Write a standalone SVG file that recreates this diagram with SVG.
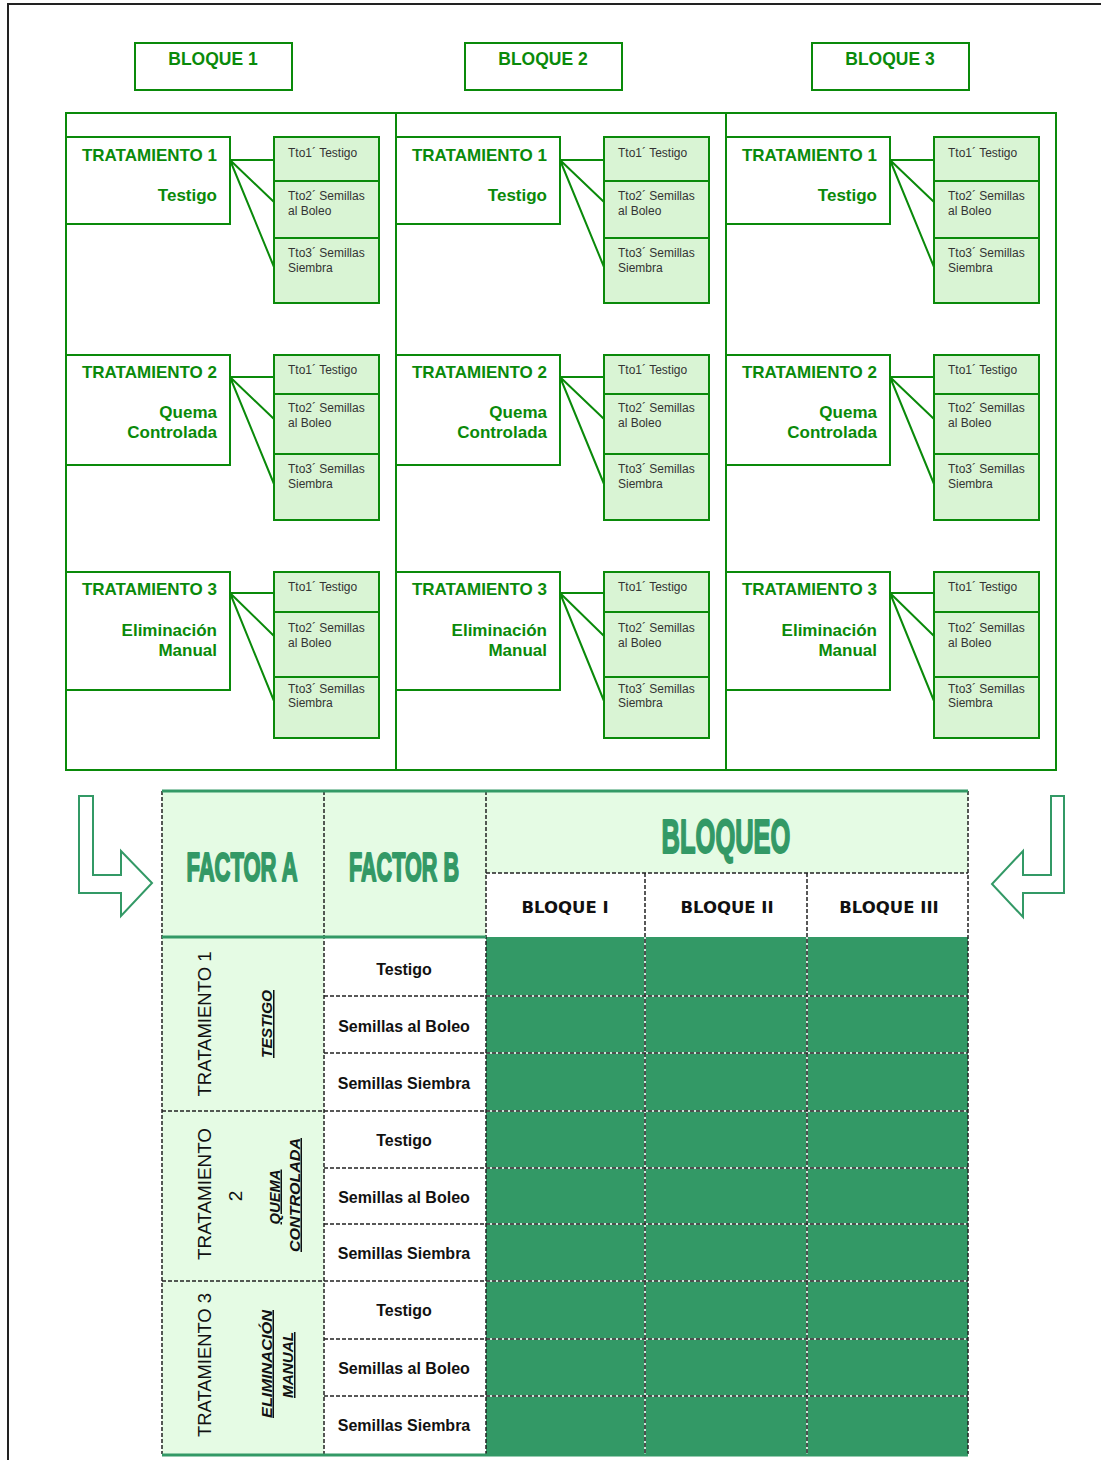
<svg xmlns="http://www.w3.org/2000/svg" width="1101" height="1460" viewBox="0 0 1101 1460">
  <style>
    .frame { fill: none; stroke: #222; stroke-width: 2; }
    .gbox { fill: #ffffff; stroke: #0a8a0a; stroke-width: 2; }
    .sub { fill: #d9f4d4; stroke: #0a8a0a; stroke-width: 2; }
    .conn { stroke: #0a8a0a; stroke-width: 2; fill: none; }
    .hdr { font-family: "Liberation Sans", Arial, sans-serif; font-weight: bold; font-size: 17.5px; fill: #0a8a0a; text-anchor: middle; }
    .tt { font-family: "Liberation Sans", Arial, sans-serif; font-weight: bold; font-size: 17px; fill: #0a8a0a; text-anchor: end; }
    .st { font-family: "Liberation Sans", Arial, sans-serif; font-size: 12px; fill: #333; }
    .arrow { fill: #ffffff; stroke: #339966; stroke-width: 2; }
    .big { font-family: "Liberation Sans", Arial, sans-serif; font-weight: bold; fill: #339966; stroke: #339966; stroke-width: 2; stroke-linejoin: round; text-anchor: middle; }
    .bq { font-family: "DejaVu Sans", Verdana, sans-serif; font-weight: bold; font-size: 16.5px; fill: #111; text-anchor: middle; }
    .fb { font-family: "Liberation Sans", Arial, sans-serif; font-weight: bold; font-size: 16px; fill: #111; text-anchor: middle; }
    .rt { font-family: "Liberation Sans", Arial, sans-serif; font-size: 19px; fill: #111; text-anchor: middle; }
    .ri { font-family: "Liberation Sans", Arial, sans-serif; font-size: 15px; font-weight: bold; font-style: italic; text-decoration: underline; fill: #111; text-anchor: middle; }
    .dash { stroke: #222; stroke-width: 1.5; stroke-dasharray: 4 2; fill: none; }
    .wline { stroke: #ffffff; stroke-width: 1.5; fill: none; }
    .gline { stroke: #339966; stroke-width: 3; fill: none; }
  </style>

  <!-- page border -->
  <path class="frame" d="M8 1460 V4 H1101"/>

  <!-- block headers -->
  <g id="bloque1"><rect class="gbox" x="135" y="43" width="157" height="47"/><text class="hdr" x="213" y="65">BLOQUE 1</text></g>
  <g id="bloque2"><rect class="gbox" x="465" y="43" width="157" height="47"/><text class="hdr" x="543" y="65">BLOQUE 2</text></g>
  <g id="bloque3"><rect class="gbox" x="812" y="43" width="157" height="47"/><text class="hdr" x="890" y="65">BLOQUE 3</text></g>

  <!-- field layout frame -->
  <g id="campo">
    <rect class="gbox" x="66" y="113" width="990" height="657"/>
    <line class="conn" x1="396" y1="113" x2="396" y2="770"/>
    <line class="conn" x1="726" y1="113" x2="726" y2="770"/>
  </g>

  <!-- connectors between treatment boxes and sub-treatments -->
  <g id="connectors">
    <path class="conn" d="M230 160 H274 M230 160 L274 202 M230 160 L274 267"/>
    <path class="conn" d="M230 377 H274 M230 377 L274 419 M230 377 L274 484"/>
    <path class="conn" d="M230 593 H274 M230 593 L274 636 M230 593 L274 701"/>
    <path class="conn" d="M560 160 H604 M560 160 L604 202 M560 160 L604 267"/>
    <path class="conn" d="M560 377 H604 M560 377 L604 419 M560 377 L604 484"/>
    <path class="conn" d="M560 593 H604 M560 593 L604 636 M560 593 L604 701"/>
    <path class="conn" d="M890 160 H934 M890 160 L934 202 M890 160 L934 267"/>
    <path class="conn" d="M890 377 H934 M890 377 L934 419 M890 377 L934 484"/>
    <path class="conn" d="M890 593 H934 M890 593 L934 636 M890 593 L934 701"/>
  </g>

  <!-- Bloque 1 treatments -->
  <g id="b1t1">
    <rect class="gbox" x="66" y="137" width="164" height="87"/>
    <text class="tt" x="217" y="161">TRATAMIENTO 1</text>
    <text class="tt" x="217" y="201">Testigo</text>
  </g>
  <g id="b1t1s">
    <rect class="sub" x="274" y="137" width="105" height="44"/>
    <rect class="sub" x="274" y="181" width="105" height="57"/>
    <rect class="sub" x="274" y="238" width="105" height="65"/>
    <text class="st" x="288" y="157">Tto1´ Testigo</text>
    <text class="st" x="288" y="200">Tto2´ Semillas</text><text class="st" x="288" y="215">al Boleo</text>
    <text class="st" x="288" y="257">Tto3´ Semillas</text><text class="st" x="288" y="272">Siembra</text>
  </g>
  <g id="b1t2">
    <rect class="gbox" x="66" y="355" width="164" height="110"/>
    <text class="tt" x="217" y="378">TRATAMIENTO 2</text>
    <text class="tt" x="217" y="418">Quema</text>
    <text class="tt" x="217" y="438">Controlada</text>
  </g>
  <g id="b1t2s">
    <rect class="sub" x="274" y="355" width="105" height="39"/>
    <rect class="sub" x="274" y="394" width="105" height="60"/>
    <rect class="sub" x="274" y="454" width="105" height="66"/>
    <text class="st" x="288" y="374">Tto1´ Testigo</text>
    <text class="st" x="288" y="412">Tto2´ Semillas</text><text class="st" x="288" y="427">al Boleo</text>
    <text class="st" x="288" y="473">Tto3´ Semillas</text><text class="st" x="288" y="488">Siembra</text>
  </g>
  <g id="b1t3">
    <rect class="gbox" x="66" y="572" width="164" height="118"/>
    <text class="tt" x="217" y="595">TRATAMIENTO 3</text>
    <text class="tt" x="217" y="636">Eliminación</text>
    <text class="tt" x="217" y="656">Manual</text>
  </g>
  <g id="b1t3s">
    <rect class="sub" x="274" y="572" width="105" height="40"/>
    <rect class="sub" x="274" y="612" width="105" height="65"/>
    <rect class="sub" x="274" y="677" width="105" height="61"/>
    <text class="st" x="288" y="591">Tto1´ Testigo</text>
    <text class="st" x="288" y="632">Tto2´ Semillas</text><text class="st" x="288" y="647">al Boleo</text>
    <text class="st" x="288" y="693">Tto3´ Semillas</text><text class="st" x="288" y="707">Siembra</text>
  </g>

  <!-- Bloque 2 treatments -->
  <g id="b2t1">
    <rect class="gbox" x="396" y="137" width="164" height="87"/>
    <text class="tt" x="547" y="161">TRATAMIENTO 1</text>
    <text class="tt" x="547" y="201">Testigo</text>
  </g>
  <g id="b2t1s">
    <rect class="sub" x="604" y="137" width="105" height="44"/>
    <rect class="sub" x="604" y="181" width="105" height="57"/>
    <rect class="sub" x="604" y="238" width="105" height="65"/>
    <text class="st" x="618" y="157">Tto1´ Testigo</text>
    <text class="st" x="618" y="200">Tto2´ Semillas</text><text class="st" x="618" y="215">al Boleo</text>
    <text class="st" x="618" y="257">Tto3´ Semillas</text><text class="st" x="618" y="272">Siembra</text>
  </g>
  <g id="b2t2">
    <rect class="gbox" x="396" y="355" width="164" height="110"/>
    <text class="tt" x="547" y="378">TRATAMIENTO 2</text>
    <text class="tt" x="547" y="418">Quema</text>
    <text class="tt" x="547" y="438">Controlada</text>
  </g>
  <g id="b2t2s">
    <rect class="sub" x="604" y="355" width="105" height="39"/>
    <rect class="sub" x="604" y="394" width="105" height="60"/>
    <rect class="sub" x="604" y="454" width="105" height="66"/>
    <text class="st" x="618" y="374">Tto1´ Testigo</text>
    <text class="st" x="618" y="412">Tto2´ Semillas</text><text class="st" x="618" y="427">al Boleo</text>
    <text class="st" x="618" y="473">Tto3´ Semillas</text><text class="st" x="618" y="488">Siembra</text>
  </g>
  <g id="b2t3">
    <rect class="gbox" x="396" y="572" width="164" height="118"/>
    <text class="tt" x="547" y="595">TRATAMIENTO 3</text>
    <text class="tt" x="547" y="636">Eliminación</text>
    <text class="tt" x="547" y="656">Manual</text>
  </g>
  <g id="b2t3s">
    <rect class="sub" x="604" y="572" width="105" height="40"/>
    <rect class="sub" x="604" y="612" width="105" height="65"/>
    <rect class="sub" x="604" y="677" width="105" height="61"/>
    <text class="st" x="618" y="591">Tto1´ Testigo</text>
    <text class="st" x="618" y="632">Tto2´ Semillas</text><text class="st" x="618" y="647">al Boleo</text>
    <text class="st" x="618" y="693">Tto3´ Semillas</text><text class="st" x="618" y="707">Siembra</text>
  </g>

  <!-- Bloque 3 treatments -->
  <g id="b3t1">
    <rect class="gbox" x="726" y="137" width="164" height="87"/>
    <text class="tt" x="877" y="161">TRATAMIENTO 1</text>
    <text class="tt" x="877" y="201">Testigo</text>
  </g>
  <g id="b3t1s">
    <rect class="sub" x="934" y="137" width="105" height="44"/>
    <rect class="sub" x="934" y="181" width="105" height="57"/>
    <rect class="sub" x="934" y="238" width="105" height="65"/>
    <text class="st" x="948" y="157">Tto1´ Testigo</text>
    <text class="st" x="948" y="200">Tto2´ Semillas</text><text class="st" x="948" y="215">al Boleo</text>
    <text class="st" x="948" y="257">Tto3´ Semillas</text><text class="st" x="948" y="272">Siembra</text>
  </g>
  <g id="b3t2">
    <rect class="gbox" x="726" y="355" width="164" height="110"/>
    <text class="tt" x="877" y="378">TRATAMIENTO 2</text>
    <text class="tt" x="877" y="418">Quema</text>
    <text class="tt" x="877" y="438">Controlada</text>
  </g>
  <g id="b3t2s">
    <rect class="sub" x="934" y="355" width="105" height="39"/>
    <rect class="sub" x="934" y="394" width="105" height="60"/>
    <rect class="sub" x="934" y="454" width="105" height="66"/>
    <text class="st" x="948" y="374">Tto1´ Testigo</text>
    <text class="st" x="948" y="412">Tto2´ Semillas</text><text class="st" x="948" y="427">al Boleo</text>
    <text class="st" x="948" y="473">Tto3´ Semillas</text><text class="st" x="948" y="488">Siembra</text>
  </g>
  <g id="b3t3">
    <rect class="gbox" x="726" y="572" width="164" height="118"/>
    <text class="tt" x="877" y="595">TRATAMIENTO 3</text>
    <text class="tt" x="877" y="636">Eliminación</text>
    <text class="tt" x="877" y="656">Manual</text>
  </g>
  <g id="b3t3s">
    <rect class="sub" x="934" y="572" width="105" height="40"/>
    <rect class="sub" x="934" y="612" width="105" height="65"/>
    <rect class="sub" x="934" y="677" width="105" height="61"/>
    <text class="st" x="948" y="591">Tto1´ Testigo</text>
    <text class="st" x="948" y="632">Tto2´ Semillas</text><text class="st" x="948" y="647">al Boleo</text>
    <text class="st" x="948" y="693">Tto3´ Semillas</text><text class="st" x="948" y="707">Siembra</text>
  </g>

  <!-- side arrows -->
  <g id="arrow-left"><polygon class="arrow" points="79,796 93,796 93,875 121,875 121,851 152,883 121,916 121,893 79,893"/></g>
  <g id="arrow-right"><polygon class="arrow" points="1051,796 1064,796 1064,893 1023,893 1023,917 992,884 1023,851 1023,875 1051,875"/></g>

  <!-- design table -->
  <g id="tabla">
    <!-- fills -->
    <rect x="162" y="791" width="806" height="82" fill="#e5fbe4"/>
    <rect x="162" y="873" width="324" height="64" fill="#e5fbe4"/>
    <rect x="162" y="937" width="162" height="517" fill="#e5fbe4"/>
    <rect x="486" y="937" width="482" height="517" fill="#339966"/>

    <!-- white under-lines for the dashed grid inside the dark band -->
    <path class="wline" d="M486 996 H968 M486 1053 H968 M486 1111 H968 M486 1168 H968 M486 1224 H968 M486 1281 H968 M486 1339 H968 M486 1396 H968 M645 937 V1454 M807 937 V1454"/>

    <!-- dashed grid -->
    <path class="dash" d="M162 791 V1454 M324 791 V1454 M486 791 V1454 M645 873 V1454 M807 873 V1454 M968 791 V1454"/>
    <path class="dash" d="M486 873 H968"/>
    <path class="dash" d="M324 996 H968 M324 1053 H968 M162 1111 H968 M324 1168 H968 M324 1224 H968 M162 1281 H968 M324 1339 H968 M324 1396 H968"/>

    <!-- solid green rules -->
    <path class="gline" d="M162 791 H968"/>
    <path class="gline" d="M162 937 H486"/>
    <path class="gline" d="M162 1455 H968"/>

    <!-- headings (condensed by horizontal scaling) -->
    <text class="big" font-size="40" transform="translate(242,881) scale(0.55,1)">FACTOR A</text>
    <text class="big" font-size="40" transform="translate(404,881) scale(0.54,1)">FACTOR B</text>
    <text class="big" font-size="49" transform="translate(726,853) scale(0.52,1)">BLOQUEO</text>
    <text class="bq" x="565" y="913">BLOQUE I</text>
    <text class="bq" x="727" y="913">BLOQUE II</text>
    <text class="bq" x="889" y="913">BLOQUE III</text>

    <!-- factor A labels (vertical) -->
    <text class="rt" transform="translate(210.5,1024) rotate(-90)" textLength="145" lengthAdjust="spacingAndGlyphs">TRATAMIENTO 1</text>
    <text class="ri" transform="translate(272,1024) rotate(-90)" textLength="68" lengthAdjust="spacingAndGlyphs">TESTIGO</text>

    <text class="rt" transform="translate(210.5,1194) rotate(-90)" textLength="132" lengthAdjust="spacingAndGlyphs">TRATAMIENTO</text>
    <text class="rt" transform="translate(242,1196) rotate(-90)">2</text>
    <text class="ri" transform="translate(279.5,1197) rotate(-90)" textLength="55" lengthAdjust="spacingAndGlyphs">QUEMA</text>
    <text class="ri" transform="translate(299.5,1195) rotate(-90)" textLength="114" lengthAdjust="spacingAndGlyphs">CONTROLADA</text>

    <text class="rt" transform="translate(210.5,1365) rotate(-90)" textLength="144" lengthAdjust="spacingAndGlyphs">TRATAMIENTO 3</text>
    <text class="ri" transform="translate(271.5,1364) rotate(-90)" textLength="108" lengthAdjust="spacingAndGlyphs">ELIMINACIÓN</text>
    <text class="ri" transform="translate(293,1365) rotate(-90)" textLength="66" lengthAdjust="spacingAndGlyphs">MANUAL</text>

    <!-- factor B labels -->
    <text class="fb" x="404" y="975">Testigo</text>
    <text class="fb" x="404" y="1032">Semillas al Boleo</text>
    <text class="fb" x="404" y="1089">Semillas Siembra</text>
    <text class="fb" x="404" y="1146">Testigo</text>
    <text class="fb" x="404" y="1203">Semillas al Boleo</text>
    <text class="fb" x="404" y="1259">Semillas Siembra</text>
    <text class="fb" x="404" y="1316">Testigo</text>
    <text class="fb" x="404" y="1374">Semillas al Boleo</text>
    <text class="fb" x="404" y="1431">Semillas Siembra</text>
  </g>
</svg>
